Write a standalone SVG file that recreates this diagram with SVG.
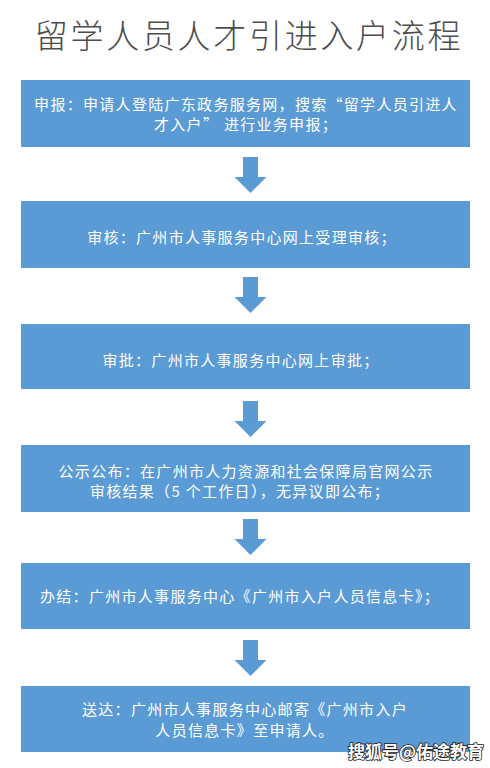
<svg xmlns="http://www.w3.org/2000/svg" width="490" height="768" viewBox="0 0 490 768">
<style>
.box{fill:#5B9BD5}
.t{font-family:"Noto Sans CJK SC","Liberation Sans",sans-serif;font-size:15px;fill:#ffffff;text-anchor:middle;dominant-baseline:central;letter-spacing:1.3px}
.title{font-family:"Noto Sans CJK SC","Liberation Sans",sans-serif;font-size:33px;font-weight:300;fill:#4d4d4d;text-anchor:middle;dominant-baseline:central;letter-spacing:2.7px}
.arrow{fill:#5B9BD5}
.wm{font-family:"Noto Sans CJK SC","Liberation Sans",sans-serif;font-size:17px;font-weight:bold;fill:#ffffff;stroke:#222;stroke-width:1.6px;paint-order:stroke;dominant-baseline:central}
</style>
<defs>
<path id="arr" d="M-7.5,0 H7.5 V20 H16 L0,36 L-16,20 H-7.5 Z"/>
</defs>
<rect width="490" height="768" fill="#ffffff"/>
<text class="title" x="249" y="33.5">留学人员人才引进入户流程</text>
<g id="connectors">
<use href="#arr" class="arrow" x="250.5" y="157"/>
<use href="#arr" class="arrow" x="250.5" y="277"/>
<use href="#arr" class="arrow" x="250.5" y="401"/>
<use href="#arr" class="arrow" x="250.5" y="519"/>
<use href="#arr" class="arrow" x="250.5" y="640"/>
</g>
<g id="n1">
<rect class="box" x="21" y="80" width="449" height="67"/>
<text class="t" x="246" y="103">申报：申请人登陆广东政务服务网，搜索“留学人员引进人</text>
<text class="t" x="246" y="123">才入户” 进行业务申报；</text>
</g>
<g id="n2">
<rect class="box" x="21" y="201" width="449" height="67"/>
<text class="t" x="242" y="236">审核：广州市人事服务中心网上受理审核；</text>
</g>
<g id="n3">
<rect class="box" x="21" y="324" width="449" height="65"/>
<text class="t" x="241" y="359">审批：广州市人事服务中心网上审批；</text>
</g>
<g id="n4">
<rect class="box" x="21" y="445" width="449" height="67"/>
<text class="t" x="246" y="470">公示公布：在广州市人力资源和社会保障局官网公示</text>
<text class="t" x="240" y="490">审核结果（5 个工作日），无异议即公布；</text>
</g>
<g id="n5">
<rect class="box" x="21" y="563" width="449" height="66"/>
<text class="t" x="240" y="595">办结：广州市人事服务中心《广州市入户人员信息卡》；</text>
</g>
<g id="n6">
<rect class="box" x="21" y="686" width="449" height="66"/>
<text class="t" x="245" y="708">送达：广州市人事服务中心邮寄《广州市入户</text>
<text class="t" x="245" y="729">人员信息卡》至申请人。</text>
</g>
<text class="wm" x="348" y="750">搜狐号@佑途教育</text>
</svg>
